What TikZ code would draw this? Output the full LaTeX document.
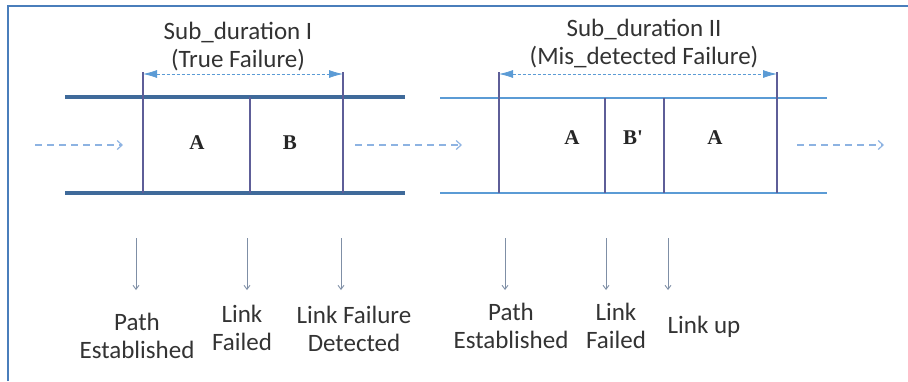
\documentclass[tikz,border=0pt]{standalone}
\usepackage{fontspec}
\setmainfont{Carlito}
\newfontfamily\letterfont{Liberation Serif}
\usetikzlibrary{arrows.meta}
\definecolor{framecol}{HTML}{4A7EBB}
\definecolor{thickcol}{HTML}{3F6A9A}
\definecolor{thincol}{HTML}{5B9BD5}
\definecolor{sepcol}{HTML}{5E5E98}
\definecolor{dashcol}{HTML}{8DB3E2}
\definecolor{markcol}{HTML}{7F8FA6}
\definecolor{txtcol}{HTML}{333333}

\begin{document}
\begin{tikzpicture}[x=1pt,y=-1pt,
  every node/.style={text=txtcol,font=\fontsize{25}{28}\selectfont,align=center},
  letter/.style={font=\letterfont\bfseries\fontsize{21}{22}\selectfont,text=black!85},
  flow/.style={dashcol,line width=1.2pt,dash pattern=on 7pt off 5pt,-{Straight Barb[length=5pt,width=9pt]}},
  span/.style={thincol,densely dashed,line width=0.8pt,{Latex[length=14pt,width=8pt]}-{Latex[length=14pt,width=8pt]}},
  event/.style={markcol,line width=0.9pt,-{Straight Barb[length=4pt,width=6pt]}},
  sep/.style={sepcol,line width=1.3pt}]

	\useasboundingbox (0,0) rectangle (908,381);
	\draw[framecol,line width=2.5pt] (8,381) -- (8,6) -- (908,6);

	% first sub-duration
	\draw[thickcol,line width=4pt] (65,97) -- (405,97);
	\draw[thickcol,line width=4pt] (65,193) -- (405,193);
	\coordinate (p1) at (143,72); \coordinate (q1) at (143,193);
	\coordinate (p2) at (250,97); \coordinate (q2) at (250,193);
	\coordinate (p3) at (343,72); \coordinate (q3) at (343,193);
	\draw[sep] (p1) -- (q1);
	\draw[sep] (p2) -- (q2);
	\draw[sep] (p3) -- (q3);
	\coordinate (s1) at (143,74); \coordinate (s2) at (343,74);
	\draw[span] (s1) -- (s2);
	\node (t1) at (238,47) {Sub\_duration I\\(True Failure)};
	\node[letter] (a1) at (197,143) {A};
	\node[letter] (b1) at (290,143) {B};

	% second sub-duration
	\draw[thincol,line width=1.5pt] (440,98) -- (827,98);
	\draw[thincol,line width=1.5pt] (440,193) -- (827,193);
	\coordinate (p4) at (499,72); \coordinate (q4) at (499,193);
	\coordinate (p5) at (605,98); \coordinate (q5) at (605,193);
	\coordinate (p6) at (664,98); \coordinate (q6) at (664,193);
	\coordinate (p7) at (777,72); \coordinate (q7) at (777,193);
	\draw[sep] (p4) -- (q4);
	\draw[sep] (p5) -- (q5);
	\draw[sep] (p6) -- (q6);
	\draw[sep] (p7) -- (q7);
	\coordinate (s3) at (499,74); \coordinate (s4) at (777,74);
	\draw[span] (s3) -- (s4);
	\node (t2) at (644,44) {Sub\_duration II\\(Mis\_detected Failure)};
	\node[letter] (a2) at (572,138) {A};
	\node[letter] (b2) at (633,138) {B'};
	\node[letter] (a3) at (715,138) {A};

	% flow between the panels
	\coordinate (f1) at (35,145); \coordinate (f2) at (123,145);
	\coordinate (f3) at (355,145); \coordinate (f4) at (462,145);
	\coordinate (f5) at (797,145); \coordinate (f6) at (884,145);
	\draw[flow] (f1) -- (f2);
	\draw[flow] (f3) -- (f4);
	\draw[flow] (f5) -- (f6);

	% events
	\node (e1) at (137,336) {Path\\Established};
	\node (e2) at (242,328) {Link\\Failed};
	\node (e3) at (354,329) {Link Failure\\Detected};
	\node (e4) at (511,326) {Path\\Established};
	\node (e5) at (616,326) {Link\\Failed};
	\node (e6) at (704,327) {Link up};
	\foreach \i/\x in {1/136,2/247,3/341,4/505,5/606,6/668}{
		\coordinate (u\i) at (\x,238);
		\coordinate (d\i) at (\x,290);
		\draw[event] (u\i) -- (d\i);
	}
\end{tikzpicture}
\end{document}
